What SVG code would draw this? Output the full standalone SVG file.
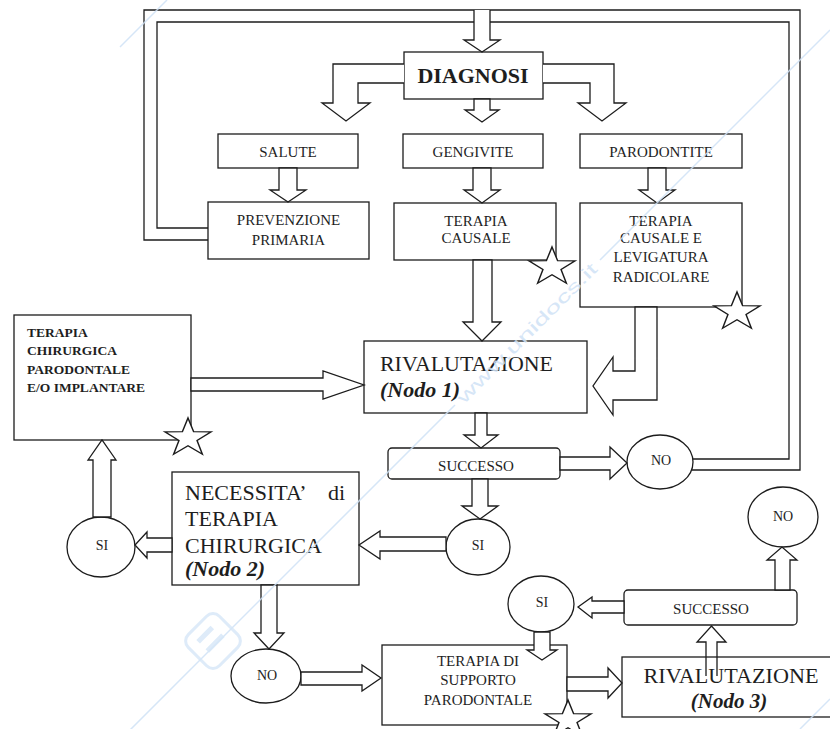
<svg xmlns="http://www.w3.org/2000/svg" xmlns:xlink="http://www.w3.org/1999/xlink" width="830" height="729" viewBox="0 0 830 729">
  <style>
    .bx { fill: #fff; stroke: #1c1c1c; stroke-width: 1.3; }
    .ar { fill: #fff; stroke: #1c1c1c; stroke-width: 1.3; stroke-linejoin: miter; }
    .ln { fill: none; stroke: #1c1c1c; stroke-width: 1.3; }
    .st { fill: #fff; stroke: #1c1c1c; stroke-width: 1.2; stroke-linejoin: miter; }
    .t { font-family: "Liberation Serif", "Times New Roman", serif; fill: #1e1e1e; }
    .s { font-size: 15px; text-anchor: middle; }
    .c { font-size: 14px; text-anchor: middle; }
    .bd { font-size: 13.5px; font-weight: bold; }
    .big { font-size: 22px; }
    .bi { font-weight: bold; font-style: italic; }
    .wm { fill: none; stroke: #cfe2f6; stroke-width: 1.5; opacity: 0.85; }
    .wt { font-family: "Liberation Sans", Arial, sans-serif; font-size: 17px; fill: #cfe2f6; opacity: 0.85; }
  </style>
  <defs>
    <!-- outlined five-point star, slightly widened -->
    <polygon id="star" points="0,-20 4.6,-6.3 19,-6.2 7.4,2.4 11.8,16.2 0,7.8 -11.8,16.2 -7.4,2.4 -19,-6.2 -4.6,-6.3" transform="scale(1.22,1)"/>
  </defs>

  <rect width="830" height="729" fill="#fff"/>

  <!-- nodes -->
  <g id="nodes">
    <g id="diagnosi">
      <rect class="bx" x="404" y="52" width="139" height="47"/>
      <text class="t big" x="473" y="83" text-anchor="middle" font-weight="bold">DIAGNOSI</text>
    </g>
    <g id="salute">
      <rect class="bx" x="218" y="134" width="140" height="34"/>
      <text class="t s" x="288" y="157">SALUTE</text>
    </g>
    <g id="gengivite">
      <rect class="bx" x="403" y="134" width="140" height="34"/>
      <text class="t s" x="473" y="157">GENGIVITE</text>
    </g>
    <g id="parodontite">
      <rect class="bx" x="580" y="134" width="162" height="34"/>
      <text class="t s" x="661" y="157">PARODONTITE</text>
    </g>
    <g id="prevenzione">
      <rect class="bx" x="208" y="202" width="161" height="57"/>
      <text class="t s" x="288.5" y="225">PREVENZIONE</text>
      <text class="t s" x="288.5" y="245">PRIMARIA</text>
    </g>
    <g id="terapia-causale">
      <rect class="bx" x="394" y="203" width="162" height="57"/>
      <text class="t s" x="476" y="226">TERAPIA</text>
      <text class="t s" x="476" y="243">CAUSALE</text>
      <use href="#star" xlink:href="#star" class="st" x="552" y="267"/>
    </g>
    <g id="terapia-levigatura">
      <rect class="bx" x="580" y="203" width="162" height="104"/>
      <text class="t s" x="661" y="226">TERAPIA</text>
      <text class="t s" x="661" y="243">CAUSALE E</text>
      <text class="t s" x="661" y="262">LEVIGATURA</text>
      <text class="t s" x="661" y="282">RADICOLARE</text>
      <use href="#star" xlink:href="#star" class="st" x="737" y="312"/>
    </g>
    <g id="terapia-chirurgica">
      <rect class="bx" x="14" y="315" width="177" height="125"/>
      <text class="t bd" x="27" y="337">TERAPIA</text>
      <text class="t bd" x="27" y="355">CHIRURGICA</text>
      <text class="t bd" x="27" y="374">PARODONTALE</text>
      <text class="t bd" x="27" y="392">E/O IMPLANTARE</text>
      <use href="#star" xlink:href="#star" class="st" x="188" y="438"/>
    </g>
    <g id="rivalutazione-1">
      <rect class="bx" x="364" y="341" width="223" height="72"/>
      <text class="t big" x="380" y="371" textLength="173" lengthAdjust="spacingAndGlyphs">RIVALUTAZIONE</text>
      <text class="t big bi" x="380" y="397">(Nodo 1)</text>
    </g>
    <g id="successo-1">
      <rect class="bx" x="388" y="448" width="172" height="31" rx="4"/>
      <text class="t s" x="476" y="471">SUCCESSO</text>
    </g>
    <g id="no-1">
      <ellipse class="bx" cx="660" cy="462" rx="33" ry="27"/>
      <text class="t c" x="661" y="465">NO</text>
    </g>
    <g id="si-1">
      <ellipse class="bx" cx="478" cy="547" rx="32" ry="28"/>
      <text class="t c" x="478" y="550">SI</text>
    </g>
    <g id="necessita">
      <rect class="bx" x="172" y="472" width="187" height="113"/>
      <text class="t big" x="185" y="500">NECESSITA’</text>
      <text class="t big" x="345" y="500" text-anchor="end">di</text>
      <text class="t big" x="185" y="526">TERAPIA</text>
      <text class="t big" x="185" y="553">CHIRURGICA</text>
      <text class="t big bi" x="185" y="576">(Nodo 2)</text>
    </g>
    <g id="si-2">
      <ellipse class="bx" cx="101" cy="547" rx="34" ry="30"/>
      <text class="t c" x="102" y="550">SI</text>
    </g>
    <g id="no-2">
      <ellipse class="bx" cx="266" cy="676" rx="35" ry="27"/>
      <text class="t c" x="267" y="680">NO</text>
    </g>
    <g id="terapia-supporto">
      <rect class="bx" x="382" y="645" width="185" height="80"/>
      <text class="t s" x="478" y="666">TERAPIA DI</text>
      <text class="t s" x="478" y="685">SUPPORTO</text>
      <text class="t s" x="478" y="705">PARODONTALE</text>
      <use href="#star" xlink:href="#star" class="st" x="568" y="720"/>
    </g>
    <g id="rivalutazione-3">
      <rect class="bx" x="622" y="657" width="220" height="60"/>
      <text class="t" x="731" y="683" font-size="21" text-anchor="middle" textLength="175" lengthAdjust="spacingAndGlyphs">RIVALUTAZIONE</text>
      <text class="t bi" x="729" y="708" font-size="21" text-anchor="middle">(Nodo 3)</text>
    </g>
    <g id="successo-2">
      <rect class="bx" x="624" y="590" width="173" height="35" rx="4"/>
      <text class="t s" x="711" y="614">SUCCESSO</text>
    </g>
    <g id="si-3">
      <ellipse class="bx" cx="541" cy="604" rx="33" ry="28"/>
      <text class="t c" x="542" y="607">SI</text>
    </g>
    <g id="no-3">
      <ellipse class="bx" cx="783" cy="517" rx="35" ry="30"/>
      <text class="t c" x="783" y="521">NO</text>
    </g>
  </g>

  <!-- connectors: hollow block arrows and the return pipe -->
  <g id="connectors">
    <!-- return pipe: PREVENZIONE and NO back up to DIAGNOSI -->
    <path class="ln" d="M208,240 H144 V10 H800 V470 H692"/>
    <path class="ln" d="M208,228 H157 V22 H474 M490,22 H789 V459 H693"/>
    <polyline class="ar" points="474,10 474,40 464,40 482,52 500,40 490,40 490,10"/>

    <polyline class="ar" points="404,64 333,64 333,103 322,103 346,121 370,103 358,103 358,83 404,83"/>
    <polygon class="ar" points="474,99 490,99 490,110 499,110 482,122 465,110 474,110"/>
    <polyline class="ar" points="543,64 614,64 614,103 626,103 602,121 578,103 590,103 590,83 543,83"/>

    <polygon class="ar" points="279,168 297,168 297,190 306,190 288,202 270,190 279,190"/>
    <polygon class="ar" points="473,168 491,168 491,190 500,190 482,203 464,190 473,190"/>
    <polygon class="ar" points="648,168 666,168 666,190 675,190 657,203 639,190 648,190"/>

    <polygon class="ar" points="473,260 492,260 492,322 501,322 482,341 463,322 473,322"/>
    <polygon class="ar" points="635,307 635,371 613,371 613,357 593,386 613,415 613,400 657,400 657,307"/>
    <polygon class="ar" points="191,378 323,378 323,371 364,385 323,399 323,391 191,391"/>

    <polygon class="ar" points="475,413 487,413 487,435 498,435 481,448 464,435 475,435"/>
    <polygon class="ar" points="560,457 610,457 610,447 627,463 610,479 610,470 560,470"/>
    <polygon class="ar" points="472,479 488,479 488,506 498,506 480,519 462,506 472,506"/>

    <polygon class="ar" points="446,537 380,537 380,531 359,545 380,559 380,551 446,551"/>
    <polygon class="ar" points="172,538 147,538 147,532 135,545 147,558 147,552 172,552"/>
    <polygon class="ar" points="93,517 93,460 88,460 102,440 116,460 111,460 111,517"/>
    <polygon class="ar" points="261,585 277,585 277,633 284,633 269,649 254,633 261,633"/>

    <polygon class="ar" points="301,672 362,672 362,665 381,678 362,691 362,685 301,685"/>
    <polygon class="ar" points="567,677 608,677 608,668 622,683 608,698 608,691 567,691"/>
    <polyline class="ln" points="706,676 706,642 697,642 711.5,626 726,642 717,642 717,676"/>
    <polygon class="ar" points="624,601 592,601 592,597 578,607 592,618 592,613 624,613"/>
    <polygon class="ar" points="534,632 550,632 550,650 557,650 542,660 527,650 534,650"/>
    <polygon class="ar" points="775,590 775,560 767,560 782,547 797,560 790,560 790,590"/>
  </g>

  <!-- faint watermark laid over the page -->
  <g id="watermark">
    <line class="wm" x1="130" y1="730" x2="455" y2="405"/>
    <line class="wm" x1="600" y1="260" x2="830" y2="30"/>
    <line class="wm" x1="120" y1="47" x2="167" y2="0"/>
    <line class="wm" x1="800" y1="729" x2="830" y2="699"/>
    <text class="wt" x="527" y="339" text-anchor="middle" transform="rotate(-45 527 333)" textLength="190" lengthAdjust="spacingAndGlyphs">www.unidocs.it</text>
    <g transform="rotate(45 213 641)" opacity="0.8">
      <rect x="191" y="619" width="44" height="44" rx="9" fill="none" stroke="#d6e7f8" stroke-width="3"/>
      <line x1="203" y1="632" x2="203" y2="652" stroke="#d6e7f8" stroke-width="5"/>
      <line x1="216" y1="630" x2="216" y2="652" stroke="#d6e7f8" stroke-width="5"/>
    </g>
  </g>
</svg>
